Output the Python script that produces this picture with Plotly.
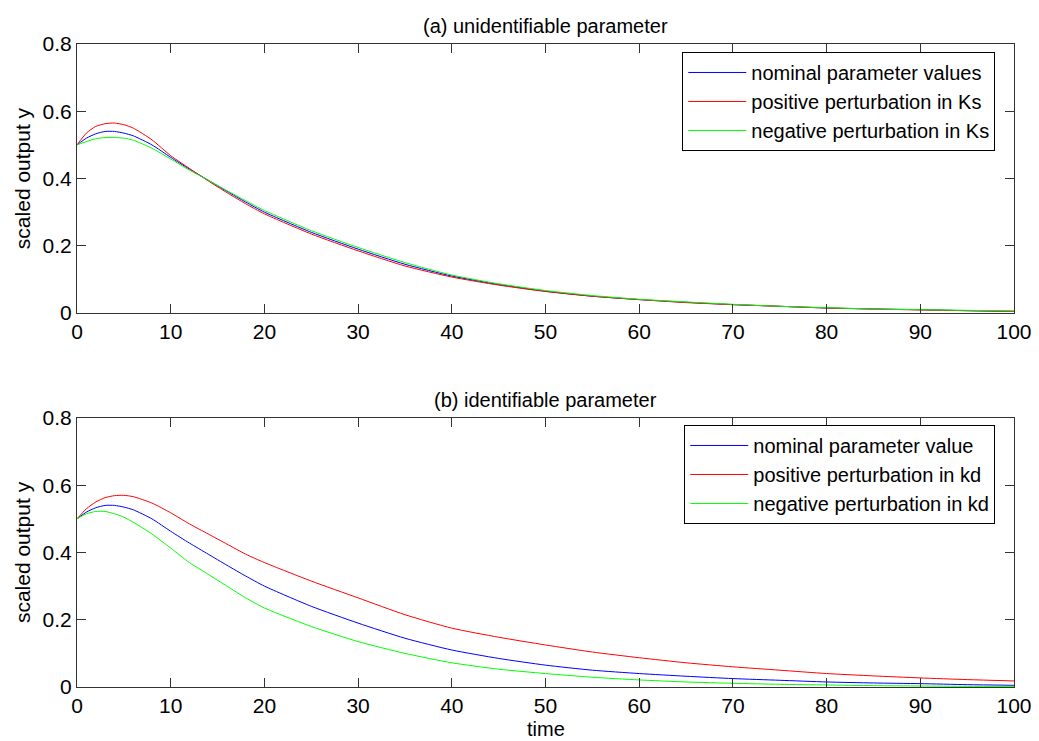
import plotly.graph_objects as go
from plotly.subplots import make_subplots

time = [0, 1, 2, 3, 4, 5, 6, 8, 10, 12, 14, 16, 18, 20, 25, 30, 35, 40, 45, 50,
        55, 60, 65, 70, 75, 80, 85, 90, 95, 100]

# (a) unidentifiable parameter Ks
a_nominal = [0.50, 0.52, 0.533, 0.54, 0.54, 0.535, 0.527, 0.50, 0.463, 0.428, 0.395, 0.362, 0.33, 0.30,
             0.24, 0.19, 0.145, 0.11, 0.085, 0.065, 0.05, 0.04, 0.032, 0.025, 0.02, 0.015, 0.012, 0.01, 0.007, 0.005]
a_positive = [0.50, 0.535, 0.555, 0.563, 0.565, 0.56, 0.55, 0.515, 0.468, 0.43, 0.393, 0.358, 0.325, 0.295,
              0.235, 0.185, 0.14, 0.107, 0.083, 0.064, 0.05, 0.04, 0.031, 0.025, 0.02, 0.015, 0.012, 0.009, 0.007, 0.005]
a_negative = [0.50, 0.51, 0.518, 0.522, 0.522, 0.52, 0.514, 0.49, 0.458, 0.425, 0.395, 0.364, 0.334, 0.305,
              0.245, 0.195, 0.15, 0.113, 0.087, 0.067, 0.052, 0.041, 0.033, 0.026, 0.02, 0.016, 0.012, 0.01, 0.008, 0.006]

# (b) identifiable parameter kd
b_nominal = [0.50, 0.52, 0.533, 0.54, 0.54, 0.535, 0.527, 0.50, 0.463, 0.428, 0.395, 0.362, 0.33, 0.30,
             0.24, 0.19, 0.145, 0.11, 0.085, 0.065, 0.05, 0.04, 0.032, 0.025, 0.02, 0.015, 0.012, 0.01, 0.007, 0.005]
b_positive = [0.50, 0.53, 0.55, 0.563, 0.569, 0.57, 0.566, 0.547, 0.518, 0.485, 0.455, 0.425, 0.395, 0.37,
              0.315, 0.265, 0.215, 0.175, 0.148, 0.125, 0.104, 0.087, 0.072, 0.06, 0.05, 0.04, 0.033, 0.027, 0.022, 0.018]
b_negative = [0.50, 0.515, 0.522, 0.522, 0.515, 0.505, 0.49, 0.455, 0.413, 0.37, 0.335, 0.30, 0.265, 0.235,
              0.18, 0.135, 0.10, 0.072, 0.053, 0.04, 0.029, 0.021, 0.015, 0.011, 0.008, 0.006, 0.004, 0.003, 0.002, 0.002]

names_a = ["nominal parameter values", "positive perturbation in Ks", "negative perturbation in Ks"]
names_b = ["nominal parameter value", "positive perturbation in kd", "negative perturbation in kd"]
colors = ["#0000FF", "#FF0000", "#00FF00"]
x_ticks = [0, 10, 20, 30, 40, 50, 60, 70, 80, 90, 100]
y_ticks = [0, 0.2, 0.4, 0.6, 0.8]
y_ticktext = ["0", "0.2", "0.4", "0.6", "0.8"]

FONT = "Arial, Liberation Sans, sans-serif"

fig = make_subplots(rows=2, cols=1, vertical_spacing=0.1632)

for series, name, col in zip([a_nominal, a_positive, a_negative], names_a, colors):
    fig.add_trace(go.Scatter(x=time, y=series, mode="lines", name=name,
                             line=dict(color=col, width=1, shape="spline", smoothing=0.6),
                             legend="legend"), row=1, col=1)
for series, name, col in zip([b_nominal, b_positive, b_negative], names_b, colors):
    fig.add_trace(go.Scatter(x=time, y=series, mode="lines", name=name,
                             line=dict(color=col, width=1, shape="spline", smoothing=0.6),
                             legend="legend2"), row=2, col=1)

axis_common = dict(showline=True, linecolor="#333333", linewidth=1, mirror="ticks",
                   ticks="inside", ticklen=9, tickcolor="#333333", showgrid=False, zeroline=False,
                   automargin=False, ticklabeloverflow="allow",
                   tickfont=dict(family=FONT, size=21, color="black"))

for r in (1, 2):
    fig.update_xaxes(range=[0, 100], tickvals=x_ticks, row=r, col=1, **axis_common)
    fig.update_yaxes(range=[0, 0.8], tickvals=y_ticks, ticktext=y_ticktext,
                     title=dict(text="scaled output y", font=dict(family=FONT, size=21, color="black"), standoff=6),
                     row=r, col=1, **axis_common)

legend_common = dict(bgcolor="white", bordercolor="black", borderwidth=1,
                     font=dict(family=FONT, size=20, color="black"),
                     xanchor="right", yanchor="top", tracegroupgap=0, itemwidth=58)

fig.update_layout(
    width=1023, height=733,
    margin=dict(l=69, r=17, t=36, b=54, autoexpand=False),
    paper_bgcolor="white", plot_bgcolor="white",
    showlegend=True,
    legend=dict(x=0.98, y=0.9876, **legend_common),
    legend2=dict(x=0.98, y=0.4075, **legend_common),
    annotations=[
        dict(text="(a) unidentifiable parameter", x=0.5, y=1, xref="paper", yref="paper",
             xanchor="center", yanchor="bottom", yshift=5, showarrow=False,
             font=dict(family=FONT, size=20, color="black")),
        dict(text="(b) identifiable parameter", x=0.5, y=0.4184, xref="paper", yref="paper",
             xanchor="center", yanchor="bottom", yshift=5, showarrow=False,
             font=dict(family=FONT, size=20, color="black")),
        dict(text="time", x=0.5, y=0, xref="paper", yref="paper",
             xanchor="center", yanchor="middle", yshift=-42, showarrow=False,
             font=dict(family=FONT, size=20, color="black")),
    ],
)

fig.write_html("out.html")
